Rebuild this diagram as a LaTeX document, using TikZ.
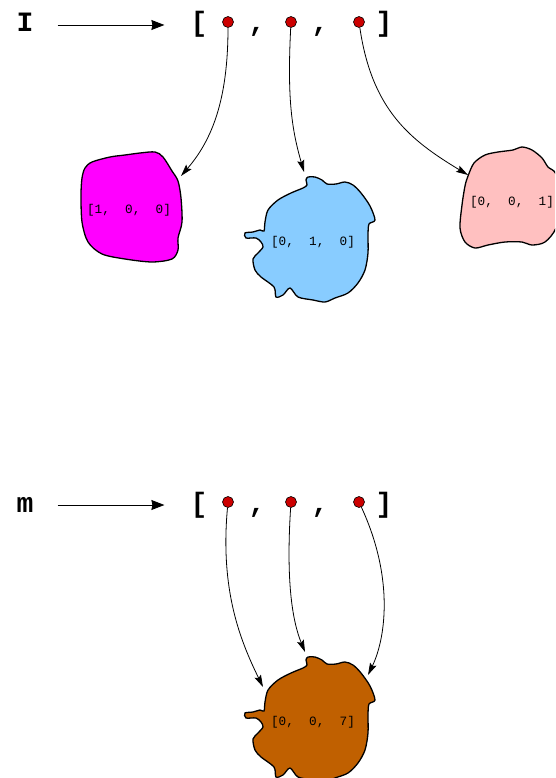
\documentclass[tikz,border=0pt]{standalone}
\usepackage{fontspec}
\setmonofont{Liberation Mono}
\usetikzlibrary{arrows.meta}

\definecolor{dotred}{RGB}{204,0,0}
\definecolor{blobmagenta}{RGB}{255,0,255}
\definecolor{blobblue}{RGB}{136,204,255}
\definecolor{blobpink}{RGB}{255,192,192}
\definecolor{blobbrown}{RGB}{192,96,0}

\tikzset{
  bigtt/.style={font=\fontsize{28}{28}\selectfont\ttfamily\bfseries,
    inner sep=0pt, text height=20pt, text depth=6pt, anchor=base},
  smalltt/.style={font=\fontsize{12.7}{13}\selectfont\ttfamily, inner sep=0pt},
  refdot/.style={circle, draw, line width=0.6pt, fill=dotred,
    minimum size=11pt, inner sep=0pt},
  mapsto/.style={-{Stealth[length=13pt,width=10pt,inset=1pt]}, line width=0.8pt},
  pointer/.style={-{Stealth[length=12pt,width=7pt,inset=2pt]}, line width=0.8pt},
  blob/.style={draw, line width=1.3pt, smooth cycle, tension=0.5}
}

\begin{document}
\begin{tikzpicture}[x=1pt,y=-1pt]
\useasboundingbox (0,0) rectangle (555,778);
\clip (0,0) rectangle (555,778);

% blobs
\draw[blob, fill=blobmagenta] plot coordinates {(85,168) (92,162) (110,157) (125,155)
  (140,153) (155,152) (163,157) (172,171) (178,181) (181,198) (182,222) (178,238)
  (178,250) (172,259) (152,262) (125,259) (102,254) (88,242) (82,222) (81,195) (82,178)};
\draw[blob, fill=blobpink] plot coordinates {(468,176) (474,163) (485,155) (498,152)
  (513,150) (522,147) (532,150) (542,158) (548,167) (556,174) (562,200) (556,228)
  (545,242) (532,245) (522,242) (505,242) (488,245) (475,248) (465,242) (460,228)
  (462,205) (465,186)};
\foreach \dy/\col in {0/blobblue, 480/blobbrown}{
  \draw[blob, fill=\col, shift={(0,\dy)}] plot coordinates {(306,180) (308,177)
    (315,177) (322,180) (327,184) (336,184) (345,182) (353,185) (361,193) (370,206)
    (375,220) (369,224) (368,235) (368,253) (365,270) (358,283) (348,293) (335,298)
    (325,302) (313,300) (298,297) (290,288) (283,295) (276,297) (274,287) (261,277)
    (255,270) (253,259) (258,253) (263,247) (261,242) (256,238) (246,238) (245,233)
    (253,232) (260,230) (264,231) (265,222) (268,210) (278,200) (291,193) (303,188)
    (307,185)};
}

\node[smalltt] (valA) at (129,210) {[1,~~0,~~0]};
\node[smalltt] (valB) at (313,242) {[0,~~1,~~0]};
\node[smalltt] (valC) at (512,202) {[0,~~0,~~1]};
\node[smalltt] (valD) at (313,722) {[0,~~0,~~7]};

% the two lists
\node[bigtt] (nameI) at (25,32) {I};
\node[bigtt] (nameM) at (25,512) {m};
\foreach \r/\y in {I/32, M/512}{
  \node[bigtt] (open\r) at (199,\y) {[};
  \node[bigtt] (close\r) at (384,\y) {]};
  \node[bigtt] (comma\r a) at (257,\y) {,};
  \node[bigtt] (comma\r b) at (320,\y) {,};
  \node[refdot] (dot\r a) at (228,\y-10) {};
  \node[refdot] (dot\r b) at (291,\y-10) {};
  \node[refdot] (dot\r c) at (359,\y-10) {};
}
\draw[mapsto, shorten <=24pt, shorten >=26pt] (nameI) -- (openI);
\draw[mapsto, shorten <=24pt, shorten >=26pt] (nameM) -- (openM);

% arrow ends on the blobs
\coordinate (tipIa) at (181,176);
\coordinate (tipIb) at (304,172);
\coordinate (tipIc) at (468,175);
\coordinate (tipMa) at (263,687);
\coordinate (tipMb) at (305,652);
\coordinate (tipMc) at (368,675);

\draw[pointer] (dotIa) .. controls (228,100) and (212,140) .. (tipIa);
\draw[pointer] (dotIb) .. controls (287,100) and (292,130) .. (tipIb);
\draw[pointer] (dotIc) .. controls (372,110) and (410,140) .. (tipIc);
\draw[pointer] (dotMa) .. controls (220,590) and (240,640) .. (tipMa);
\draw[pointer] (dotMb) .. controls (286,580) and (292,620) .. (tipMb);
\draw[pointer] (dotMc) .. controls (395,580) and (385,640) .. (tipMc);
\end{tikzpicture}
\end{document}
